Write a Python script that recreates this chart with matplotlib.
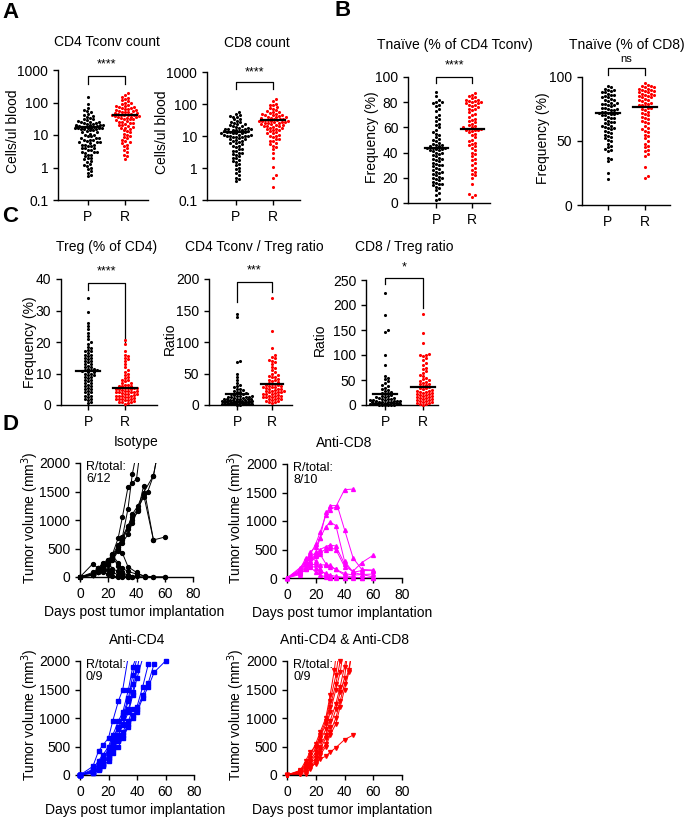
import numpy as np
import matplotlib.pyplot as plt

plt.rcParams['font.family'] = ['Liberation Sans', 'DejaVu Sans']
plt.rcParams['font.size'] = 10
plt.rcParams['axes.linewidth'] = 1.0
plt.rcParams['xtick.major.width'] = 1.0
plt.rcParams['ytick.major.width'] = 1.0
plt.rcParams['xtick.major.size'] = 3.5
plt.rcParams['ytick.major.size'] = 3.5

# ---- data: dot plots (P = progressor, R = responder) ----
groups = ['P', 'R']

cd4_count_P = [150, 90, 70, 60, 55, 50, 45, 40, 38, 35, 33, 30, 30, 28, 27, 26, 25, 25, 24, 23, 22, 22, 21, 20, 20,
               20, 19, 19, 18, 18, 18, 17, 17, 17, 16, 16, 16, 15, 15, 15, 14, 14, 13, 12, 12, 11, 10, 10, 9, 9, 8, 8,
               8, 7, 7, 7, 6.5, 6, 6, 6, 5.5, 5, 5, 5, 4.5, 4.5, 4, 4, 4, 3.5, 3.5, 3, 3, 3, 2.8, 2.5, 2.5, 2.2, 2, 2,
               1.8, 1.6, 1.5, 1.3, 1.2, 1.1, 1.0, 0.9, 0.8, 0.7, 0.6, 0.55]
cd4_count_R = [200, 170, 150, 140, 130, 120, 110, 100, 95, 90, 85, 80, 78, 75, 72, 70, 68, 65, 62, 60, 58, 55, 55, 52,
               50, 50, 48, 46, 45, 44, 42, 41, 40, 40, 40, 39, 38, 37, 36, 35, 34, 33, 32, 30, 30, 28, 27, 26, 25, 24,
               23, 22, 21, 20, 19, 18, 17, 16, 15, 14, 13, 12, 11, 10, 9, 8.5, 8, 7, 6.5, 6, 5.5, 5, 4.5, 4, 3.5, 3,
               2.5, 2.2, 1.8]
cd8_count_P = [55, 50, 45, 42, 40, 38, 35, 33, 30, 28, 27, 25, 24, 23, 22, 21, 20, 19, 18, 18, 17, 17, 16, 16, 15, 15,
               15, 14, 14, 14, 13, 13, 13, 12, 12, 12, 12, 11, 11, 11, 10, 10, 10, 10, 9.5, 9, 9, 8.5, 8, 8, 7.5, 7, 7,
               6.5, 6, 6, 5.5, 5, 5, 4.5, 4, 4, 3.5, 3.5, 3, 3, 2.8, 2.5, 2.3, 2, 2, 1.8, 1.6, 1.5, 1.3, 1.2, 1, 0.9,
               0.8, 0.7, 0.6, 0.5, 0.45, 0.4]
cd8_count_R = [140, 120, 100, 95, 90, 80, 75, 70, 65, 60, 58, 55, 52, 50, 48, 46, 45, 44, 42, 40, 40, 38, 37, 36, 35,
               34, 33, 32, 32, 31, 30, 30, 30, 29, 28, 28, 27, 26, 25, 25, 24, 23, 22, 22, 21, 20, 20, 19, 18, 18, 17,
               16, 15, 15, 14, 13, 12, 12, 11, 10, 10, 9, 8, 8, 7, 7, 6, 5.5, 5, 4.5, 4, 3, 2, 1.1, 0.6, 0.5, 0.25]
naive4_P = [88, 85, 82, 80, 80, 79, 78, 77, 75, 73, 70, 68, 67, 65, 63, 62, 60, 58, 56, 55, 54, 52, 51, 50, 49, 48, 47,
            46, 46, 45, 45, 44, 44, 44, 43, 43, 42, 42, 41, 40, 40, 39, 38, 37, 36, 35, 35, 34, 33, 32, 31, 30, 30, 29,
            28, 27, 26, 25, 25, 24, 23, 22, 21, 20, 20, 19, 18, 17, 16, 15, 15, 14, 13, 12, 10, 8, 6, 3, 2]
naive4_R = [87, 86, 85, 84, 83, 82, 82, 81, 81, 80, 80, 79, 79, 78, 78, 77, 76, 75, 75, 74, 72, 71, 70, 68, 67, 66, 65,
            64, 63, 62, 61, 60, 60, 59, 59, 58, 58, 58, 57, 56, 55, 54, 52, 50, 49, 48, 47, 46, 45, 44, 42, 40, 39, 37,
            35, 34, 32, 30, 28, 26, 25, 23, 22, 20, 15, 7, 6, 5]
naive8_P = [93, 92, 91, 90, 90, 89, 88, 88, 87, 86, 86, 85, 84, 84, 83, 82, 82, 81, 80, 80, 79, 79, 78, 78, 77, 76, 76,
            75, 75, 74, 74, 73, 73, 72, 72, 72, 71, 71, 70, 70, 69, 68, 68, 67, 66, 65, 65, 64, 63, 62, 62, 61, 60, 60,
            59, 58, 57, 56, 55, 54, 53, 52, 51, 50, 48, 46, 45, 44, 43, 42, 37, 36, 34, 25, 20]
naive8_R = [95, 94, 93, 93, 92, 92, 91, 91, 90, 90, 89, 89, 88, 88, 87, 87, 86, 86, 85, 85, 84, 84, 83, 82, 82, 81, 80,
            80, 79, 78, 78, 77, 76, 76, 75, 74, 73, 72, 71, 70, 69, 68, 67, 66, 65, 64, 62, 60, 59, 58, 57, 55, 54, 52,
            50, 48, 46, 45, 43, 42, 40, 38, 30, 23, 21]
treg_P = [34, 29.5, 26, 25, 24, 23, 22, 21, 20, 19.5, 18.5, 18, 17.5, 17, 17, 16.5, 16, 16, 15.5, 15, 15, 14.5, 14, 14,
          13.5, 13, 13, 12.5, 12, 12, 11.5, 11.5, 11, 11, 11, 10.8, 10.5, 10.5, 10, 10, 9.5, 9.5, 9, 9, 8.5, 8, 8, 7.5,
          7, 7, 6.5, 6, 6, 5.5, 5, 5, 4.5, 4, 4, 3.5, 3, 3, 2.5, 2, 2, 1.5, 1, 0.5]
treg_R = [20.5, 19.5, 17, 16, 15.5, 15, 14.5, 14, 13, 12, 11, 10.5, 10, 9.5, 9, 8.5, 8, 8, 7.5, 7, 7, 6.5, 6.5, 6, 6, 6,
          5.5, 5.5, 5.5, 5.3, 5, 5, 5, 4.8, 4.5, 4.5, 4.5, 4.2, 4, 4, 4, 3.8, 3.5, 3.5, 3.5, 3.2, 3, 3, 3, 2.8, 2.5,
          2.5, 2.2, 2, 2, 2, 1.8, 1.5, 1.5, 1.2, 1, 1, 0.8, 0.5, 0.3]
cd4_ratio_P = [145, 140, 70, 68, 50, 45, 40, 35, 32, 30, 28, 26, 25, 24, 22, 21, 20, 19, 18, 17, 16, 15, 15, 14, 13, 13,
               12, 12, 11, 11, 10, 10, 10, 9, 9, 9, 8, 8, 8, 7, 7, 7, 7, 6, 6, 6, 6, 5, 5, 5, 5, 5, 4, 4, 4, 4, 4, 3, 3,
               3, 3, 3, 2, 2, 2, 2, 2, 1.5, 1.5, 1, 1, 1, 0.5, 0.5]
cd4_ratio_R = [170, 118, 90, 80, 76, 74, 72, 70, 68, 65, 60, 58, 55, 52, 50, 48, 46, 45, 44, 42, 40, 40, 38, 36, 35, 34,
               33, 32, 31, 30, 30, 29, 28, 28, 27, 26, 25, 25, 24, 23, 22, 22, 21, 20, 20, 19, 18, 18, 17, 16, 15, 15,
               14, 13, 12, 12, 11, 10, 10, 9, 8, 7, 6, 5, 4, 3]
cd8_ratio_P = [225, 180, 150, 147, 100, 80, 58, 55, 52, 48, 45, 40, 38, 35, 32, 30, 28, 26, 25, 24, 22, 20, 19, 18, 17,
               16, 15, 14, 13, 12, 12, 11, 10, 10, 9, 9, 8, 8, 7, 7, 6, 6, 6, 5, 5, 5, 4, 4, 4, 4, 3, 3, 3, 3, 2, 2, 2,
               2, 1, 1, 1, 1, 0.5, 0.5]
cd8_ratio_R = [183, 145, 125, 103, 101, 100, 98, 95, 90, 85, 80, 75, 72, 68, 65, 60, 58, 55, 52, 50, 48, 46, 45, 43, 42,
               40, 38, 36, 35, 34, 32, 30, 29, 28, 27, 26, 25, 24, 23, 22, 21, 20, 19, 18, 17, 16, 15, 14, 13, 12, 11,
               10, 9, 8, 7, 6, 5, 4, 3, 2, 1]

# horizontal centre lines (P, R)
cd4_count_mid = [18, 40]
cd8_count_mid = [13, 31]
naive4_mid = [44, 58.5]
naive8_mid = [72, 76.5]
treg_mid = [10.8, 5.3]
cd4_ratio_mid = [17, 33]
cd8_ratio_mid = [22, 36]

# ---- data: tumour growth curves (days, volume mm3) ----
isotype = [
    ([0, 9, 13, 16, 20, 23, 27, 30, 34, 37, 40, 43], [0, 50, 110, 180, 280, 400, 680, 1050, 1580, 1650, 1720, 2300]),
    ([0, 9, 13, 16, 20, 23, 27, 30, 34, 37, 41, 45, 48, 52, 56], [0, 40, 100, 170, 250, 350, 520, 700, 900, 1050, 1200, 1400, 1500, 1780, 2300]),
    ([0, 9, 13, 16, 20, 23, 27, 30, 34, 37, 41, 45, 52, 60], [0, 30, 90, 150, 230, 330, 480, 650, 850, 1000, 1150, 1600, 650, 700]),
    ([0, 9, 13, 16, 20, 23, 27, 30, 34, 37, 41, 45, 52], [0, 30, 80, 130, 210, 300, 450, 600, 750, 950, 1180, 1450, 650]),
    ([0, 9, 13, 16, 20, 23, 27, 30, 34, 37, 41, 45, 52, 56], [0, 35, 90, 160, 240, 350, 520, 680, 880, 1100, 1250, 1480, 1780, 2300]),
    ([0, 9, 13, 16, 20, 23, 27, 30, 34, 37, 41, 45], [0, 45, 95, 150, 260, 380, 560, 700, 1200, 1800, 2300, 2500]),
    ([0, 9, 13, 16, 20, 23, 27, 30, 34, 37], [0, 230, 150, 80, 50, 20, 0, 0, 0, 0]),
    ([0, 9, 13, 16, 20, 23, 27, 30, 34, 40, 46, 52, 60], [0, 60, 150, 250, 300, 350, 200, 80, 30, 10, 0, 0, 0]),
    ([0, 9, 13, 16, 20, 23, 27, 30, 34, 40, 46], [0, 50, 120, 200, 280, 300, 500, 420, 180, 80, 0]),
    ([0, 9, 13, 16, 20, 23, 27, 30, 34, 37], [0, 80, 160, 220, 260, 140, 100, 50, 20, 0]),
    ([0, 9, 13, 16, 20, 23, 27, 30, 34], [0, 40, 100, 180, 120, 80, 40, 10, 0]),
    ([0, 9, 13, 16, 20, 23, 27, 30, 34, 40, 46, 52, 60], [0, 50, 100, 150, 300, 380, 250, 150, 100, 50, 20, 0, 0]),
]
anti_cd8 = [
    ([0, 9, 13, 16, 20, 23, 27, 30, 34, 40, 46], [0, 150, 280, 450, 550, 700, 1150, 1200, 1250, 1550, 1560]),
    ([0, 9, 13, 16, 20, 23, 27, 30, 35, 40, 46, 52, 60], [0, 180, 300, 400, 600, 800, 1100, 1270, 1270, 850, 350, 150, 140]),
    ([0, 9, 13, 16, 20, 23, 27, 30, 34, 40, 46, 52, 60], [0, 120, 250, 350, 450, 700, 900, 980, 920, 300, 100, 60, 20]),
    ([0, 9, 13, 16, 20, 23, 27, 30, 34, 40, 46, 52, 60], [0, 100, 200, 300, 420, 500, 550, 580, 560, 250, 100, 130, 130]),
    ([0, 9, 13, 16, 20, 23, 27, 30, 34, 40, 46, 52, 60], [0, 90, 180, 280, 400, 450, 500, 530, 500, 200, 120, 270, 400]),
    ([0, 9, 13, 16, 20, 23, 27, 30, 34, 40, 46, 52, 60], [0, 80, 150, 250, 380, 420, 250, 200, 150, 80, 50, 60, 70]),
    ([0, 9, 13, 16, 20, 23, 27, 30, 34, 40, 46, 52, 60], [0, 100, 250, 230, 240, 230, 230, 220, 150, 50, 10, 0, 0]),
    ([0, 9, 13, 16, 20, 23, 27, 30, 34, 40], [0, 150, 350, 200, 100, 50, 20, 0, 0, 0]),
    ([0, 9, 13, 16, 20, 23, 27, 30, 34, 40, 46, 52, 60], [0, 60, 150, 220, 180, 120, 80, 50, 30, 10, 0, 0, 0]),
    ([0, 9, 13, 16, 20, 23, 27, 30, 34, 40], [0, 120, 300, 380, 300, 150, 60, 20, 10, 0]),
]
anti_cd4 = [
    ([0, 9, 13, 16, 20, 23, 27, 30, 34], [0, 150, 420, 520, 650, 950, 1300, 1500, 2100]),
    ([0, 9, 13, 16, 20, 23, 27, 30, 34, 37, 40], [0, 100, 250, 350, 500, 700, 950, 1100, 1500, 1900, 2100]),
    ([0, 9, 13, 16, 20, 23, 27, 30, 34, 37, 40], [0, 80, 200, 300, 450, 650, 850, 1050, 1350, 1750, 2050]),
    ([0, 9, 13, 16, 20, 23, 27, 30, 34, 37, 40], [0, 60, 150, 250, 400, 600, 800, 1000, 1300, 1600, 1900]),
    ([0, 9, 13, 16, 20, 23, 27, 30, 34, 37, 40, 42], [0, 50, 120, 200, 350, 500, 700, 900, 1150, 1450, 1850, 2100]),
    ([0, 9, 13, 16, 20, 23, 27, 30, 34, 37, 40, 44, 48, 52], [0, 40, 100, 180, 300, 450, 600, 700, 900, 1050, 1150, 1400, 1620, 1950]),
    ([0, 9, 13, 16, 20, 23, 27, 30, 34, 37, 40, 44, 48, 52, 60], [0, 30, 80, 150, 250, 380, 500, 650, 850, 1000, 1100, 1350, 1550, 1800, 2000]),
    ([0, 9, 13, 16, 20, 23, 27, 30, 34, 37, 40, 44, 48], [0, 50, 110, 200, 320, 480, 620, 750, 950, 1150, 1200, 1550, 1950]),
    ([0, 9, 13, 16, 20, 23, 27, 30, 34, 37, 40, 44], [0, 70, 180, 280, 420, 560, 700, 880, 1100, 1400, 1700, 2050]),
]
anti_cd4_cd8 = [
    ([0, 9, 13, 16, 20, 23, 27, 30, 33, 35], [0, 80, 200, 350, 550, 750, 1000, 1400, 1850, 2300]),
    ([0, 9, 13, 16, 20, 23, 27, 30, 34, 37], [0, 60, 180, 300, 480, 700, 950, 1300, 1750, 2300]),
    ([0, 9, 13, 16, 20, 23, 27, 30, 34, 37, 40], [0, 50, 150, 250, 400, 600, 800, 1100, 1500, 1800, 2300]),
    ([0, 9, 13, 16, 20, 23, 27, 30, 34, 37, 40, 43], [0, 40, 120, 220, 350, 500, 700, 950, 1250, 1550, 1900, 2300]),
    ([0, 9, 13, 16, 20, 23, 27, 30, 34, 37, 40, 43], [0, 30, 100, 180, 300, 450, 650, 850, 1150, 1450, 1700, 2300]),
    ([0, 9, 13, 16, 20, 23, 27, 30, 34, 37, 40, 43, 46], [0, 20, 80, 150, 250, 380, 550, 750, 1000, 1300, 1600, 1850, 2300]),
    ([0, 9, 13, 16, 20, 23, 27, 30, 34, 37, 40], [0, 70, 250, 400, 500, 650, 900, 1200, 1600, 2000, 2300]),
    ([0, 9, 13, 16, 20, 23, 27, 30, 34, 40, 46], [0, 40, 60, 150, 200, 280, 330, 400, 480, 620, 700]),
    ([0, 9, 13, 16, 20, 23, 27, 30, 34, 37, 40, 43, 46], [0, 10, 20, 100, 220, 350, 500, 700, 900, 1200, 1500, 1800, 2300]),
]

W, H = 685, 818
fig = plt.figure(figsize=(W / 100, H / 100), dpi=100)


def box(l, t, r, b):
    ax = fig.add_axes([l / W, 1 - b / H, (r - l) / W, (b - t) / H])
    ax.spines['top'].set_visible(False)
    ax.spines['right'].set_visible(False)
    return ax


def ftext(x, y, s, **kw):
    kw.setdefault('ha', 'center')
    kw.setdefault('va', 'center')
    fig.text(x / W, 1 - y / H, s, **kw)


def swarm(ax, vals, pos, color, d=3.0, w=15.0):
    # simple beeswarm in pixel space, width capped at +-w px
    vals = np.asarray(vals, float)
    ypix = ax.transData.transform(np.column_stack([np.full(len(vals), pos), vals]))[:, 1]
    ppu = ax.transData.transform([[1, 1]])[0, 0] - ax.transData.transform([[0, 1]])[0, 0]
    n = int(w / (d / 2))
    cand = np.array([0.0] + [s * k * d / 2 for k in range(1, n + 1) for s in (1, -1)])
    px, py = [], []
    xs = np.zeros(len(vals))
    for i in np.argsort(ypix):
        y = ypix[i]
        j = 0
        if px:
            PX, PY = np.array(px), np.array(py)
            near = np.abs(PY - y) < d
            if near.any():
                dist = np.sqrt((cand[:, None] - PX[near][None, :]) ** 2 + (y - PY[near][None, :]) ** 2).min(axis=1)
                ok = np.where(dist >= d)[0]
                j = ok[0] if len(ok) else int(np.argmax(dist))
        xs[i] = cand[j]
        px.append(cand[j])
        py.append(y)
    ax.scatter(pos + xs / ppu, vals, s=5, color=color, linewidths=0, clip_on=False, zorder=3)


def bracket(ax, yt, yl, yr, label, ly, fs=9):
    tr = ax.get_xaxis_transform()
    ax.plot([0, 0, 1, 1], [yl, yt, yt, yr], color='k', lw=0.9, transform=tr, clip_on=False)
    ax.text(0.5, ly, label, transform=tr, ha='center', va='center', fontsize=fs)


def dotplot(rect, xlim, ylim, P, R, mids, log=False, ticks=None, ticklabels=None):
    ax = box(*rect)
    if log:
        ax.set_yscale('log')
    ax.set_xlim(*xlim)
    ax.set_ylim(*ylim)
    ax.set_xticks([0, 1])
    ax.set_xticklabels(groups)
    if ticks is not None:
        ax.set_yticks(ticks)
        ax.set_yticklabels(ticklabels if ticklabels else [str(t) for t in ticks])
    ax.minorticks_off()
    swarm(ax, P, 0, 'black')
    swarm(ax, R, 1, '#ff0000')
    for i, m in enumerate(mids):
        ax.plot([i - 0.32, i + 0.32], [m, m], color='black', lw=1.6, zorder=5)
    return ax


logt = [0.1, 1, 10, 100, 1000]
logl = ['0.1', '1', '10', '100', '1000']

# Panel A
ax = dotplot((58, 70, 148, 200), (-0.81, 1.62), (0.1, 1000), cd4_count_P, cd4_count_R, cd4_count_mid, True, logt, logl)
bracket(ax, 0.954, 0.89, 0.89, '****', 1.045)
ax = dotplot((207, 72, 300, 200), (-0.78, 1.73), (0.1, 1000), cd8_count_P, cd8_count_R, cd8_count_mid, True, logt, logl)
bracket(ax, 0.92, 0.865, 0.865, '****', 1.0)
ftext(107, 42, 'CD4 Tconv count')
ftext(257, 43, 'CD8 count')
ftext(13, 131, 'Cells/ul blood', rotation=90)
ftext(162, 132, 'Cells/ul blood', rotation=90)

# Panel B
ax = dotplot((408, 77, 490, 203), (-0.78, 1.5), (0, 100), naive4_P, naive4_R, naive4_mid, False, [0, 20, 40, 60, 80, 100])
bracket(ax, 1.0, 0.95, 0.95, '****', 1.09)
ax = dotplot((582, 77, 670, 205), (-0.70, 1.68), (0, 100), naive8_P, naive8_R, naive8_mid, False, [0, 50, 100])
bracket(ax, 1.07, 1.016, 1.016, 'ns', 1.14, fs=8)
ftext(455, 45, 'Tnaïve (% of CD4 Tconv)')
ftext(627, 45, 'Tnaïve (% of CD8)')
ftext(372, 137, 'Frequency (%)', rotation=90)
ftext(543, 138, 'Frequency (%)', rotation=90)

# Panel C
ax = dotplot((61, 279, 157, 405), (-0.73, 1.86), (0, 40), treg_P, treg_R, treg_mid, False, [0, 10, 20, 30, 40])
bracket(ax, 0.968, 0.91, 0.5, '****', 1.06)
ax = dotplot((209, 279, 292, 405), (-0.8, 1.57), (0, 200), cd4_ratio_P, cd4_ratio_R, cd4_ratio_mid, False, [0, 50, 100, 150, 200])
bracket(ax, 0.976, 0.82, 0.9, '***', 1.065)
ax = dotplot((366, 280, 438, 405), (-0.5, 1.39), (0, 250), cd8_ratio_P, cd8_ratio_R, cd8_ratio_mid, False, [0, 50, 100, 150, 200, 250])
bracket(ax, 1.02, 0.97, 0.78, '*', 1.1)
ftext(107, 247, 'Treg (% of CD4)')
ftext(254, 247, 'CD4 Tconv / Treg ratio')
ftext(404, 247, 'CD8 / Treg ratio')
ftext(30, 342, 'Frequency (%)', rotation=90)
ftext(170, 339, 'Ratio', rotation=90)
ftext(320, 340, 'Ratio', rotation=90)


# Panel D
def growth(rect, curves, color, marker, title, rtxt, tx, ty):
    ax = box(*rect)
    for days, vols in curves:
        ax.plot(days, vols, color=color, lw=0.7)
        dd = [d for d, v in zip(days, vols) if v <= 2000]
        vv = [v for v in vols if v <= 2000]
        ax.plot(dd, vv, ls='none', marker=marker, ms=2.8, color=color, mec=color, clip_on=False, zorder=3)
    ax.set_xlim(0, 80)
    ax.set_ylim(0, 2000)
    ax.set_xticks([0, 20, 40, 60, 80])
    ax.set_yticks([0, 500, 1000, 1500, 2000])
    l, t, r, b = rect
    ftext((l + r) / 2, t - 21, title)
    ftext(rect[0] + 6, t - 2, rtxt, ha='left', va='top', fontsize=9, linespacing=1.05)
    ftext(tx, ty, 'Tumor volume (mm$^3$)', rotation=90)
    ftext((l + r) / 2 - 2, b + 35, 'Days post tumor implantation')
    return ax


growth((80, 463, 193, 577), isotype, 'black', 'o', 'Isotype', 'R/total:\n6/12', 30, 518)
growth((287, 464, 402, 578), anti_cd8, '#ff00ff', '^', 'Anti-CD8', 'R/total:\n8/10', 236, 518)
growth((80, 661, 194, 775), anti_cd4, '#0000ff', 's', 'Anti-CD4', 'R/total:\n0/9', 30, 715)
growth((287, 661, 402, 775), anti_cd4_cd8, '#ff0000', 'v', 'Anti-CD4 & Anti-CD8', 'R/total:\n0/9', 236, 715)

for lab, x, y in [('A', 2, 13), ('B', 334, 11), ('C', 2, 217), ('D', 2, 425)]:
    ftext(x, y, lab, ha='left', fontsize=16, fontweight='bold')

fig.savefig('out.png', dpi=100)
